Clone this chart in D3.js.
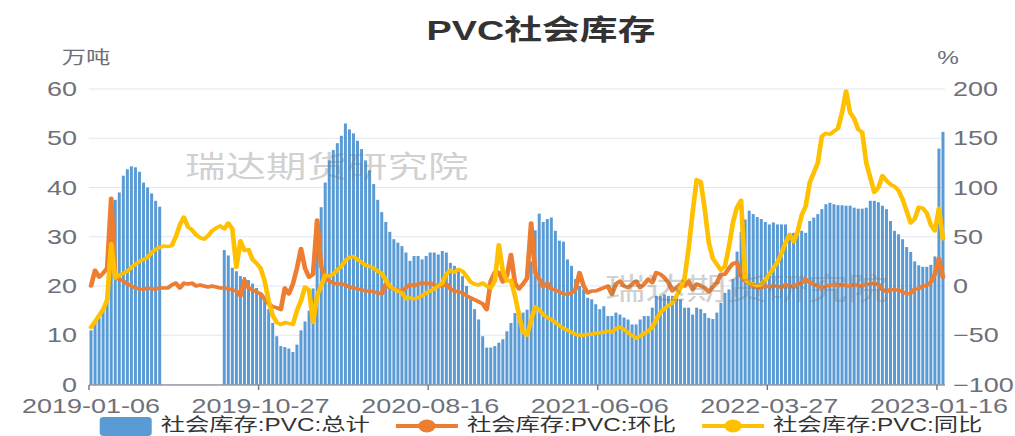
<!DOCTYPE html>
<html>
<head>
<meta charset="utf-8">
<script src="https://cdn.jsdelivr.net/npm/d3@7/dist/d3.min.js"></script>
<style>
    html, body { margin: 0; padding: 0; background: #fff; }
    #chart { width: 1015px; height: 436px; }
    text { font-family: "Liberation Sans", "Noto Sans CJK SC", sans-serif; }
</style>
</head>
<body>
<div id="chart"></div>
<script>
// weekly categories: 2019-01-06 onward, the last two come after the holiday break
var firstWeek = '2019-01-06';
var weeklyCount = 210;
var tailDates = ['2023-01-16', '2023-02-03'];
var tickDates = ['2019-01-06', '2019-10-27', '2020-08-16', '2021-06-06', '2022-03-27', '2023-01-16'];

var leftTicks = [0, 10, 20, 30, 40, 50, 60];
var rightTicks = [-100, -50, 0, 50, 100, 150, 200];

// 社会库存:PVC:总计 (万吨)
var stockTotal = [
    11, 12.5, 13.5, 15, 17.5, 34, 37.5, 39, 42.4, 43.7,
    44.3, 44.1, 43.2, 41, 40, 38.8, 37.3, 36.1, null, null,
    null, null, null, null, null, null, null, null, null, null,
    null, null, null, 27.3, 26.2, 23.7, 23, 22, 21.8, 21.2,
    20.5, 19.6, 18.5, 17.3, 15.3, 12.5, 9.8, 7.8, 7.6, 7.3,
    6.6, 8.1, 11, 12.8, 15, 19.5, 32, 36, 41, 45.5,
    47.6, 49, 50.5, 53, 51.8, 51, 49.5, 47.8, 45.5, 43.5,
    40.7, 37.5, 35, 33, 31, 29.5, 28.8, 28.1, 26.8, 25.1,
    26.1, 26.1, 25.4, 26.1, 26.8, 26.8, 26.4, 27.1, 26.8, 24.7,
    24.1, 23.4, 22, 20, 17.3, 15.3, 13.2, 9.8, 7.5, 7.5,
    7.8, 8.5, 9.2, 10.8, 12.5, 14.5, 15, 14.6, 15.2, 25,
    31.3, 34.7, 33, 33.6, 33.9, 31.2, 29.2, 29, 25.4, 24.1,
    21.4, 20, 19.3, 17.6, 17.3, 16.3, 15.3, 15.9, 13.9, 13.9,
    14.6, 14.2, 13.6, 13.2, 12.2, 12.2, 13.2, 13.9, 13.9, 15.6,
    18, 18, 18.3, 18, 18, 18, 17.3, 15.6, 15.6, 14.2,
    15.6, 15.3, 14.5, 13.5, 13.3, 14.6, 16.6, 18.6, 19.3, 21.4,
    27, 31, 33.5, 35.3, 34.6, 34, 33.6, 33, 32.5, 32.9,
    32.5, 32.5, 32.5, 30.8, 30.8, 30.8, 31.2, 30.8, 33.2, 33.9,
    34.6, 35.6, 36.6, 36.9, 36.6, 36.4, 36.4, 36.3, 36.3, 35.9,
    35.7, 35.7, 35.9, 37.3, 37.3, 37, 36.3, 35.6, 33.2, 31.2,
    30.5, 29.5, 27.9, 26.9, 25, 24.2, 23.9, 23.9, 24.3, 26,
    47.9, 51.3
];

// 社会库存:PVC:环比 (%)
var stockWoW = [
    0, 16, 9, 13, 18, 89, 8, 7, 5, 2,
    0, -2, -3, -3.4, -2, -3, -3, -2, -2, -2,
    1, 3, -2, 3, 2, 3, 0, 1, 0, -1,
    0, -1, -2, -2, -3, -4, -5, -10, 6, -2,
    -4, -6, -8, -13, -18, -21, -22, -24, -2, -8,
    2, 18, 38, 18, 9, 12, 67, 20, 10, 5,
    3, 2, 2, 1, -1, -2, -3, -4, -5, -5,
    -6, -7, -8, 2, -2, -3, -4, -5, -2, 1.7,
    0, 2, 3.4, 2, 3, 1, 0, 0, 2, -3,
    -5, -6, -7, -10, -12, -14, -16, -18, -24, 5,
    14, 14, 4, 10, 32, 3, -3, 2, 8, 64,
    14, 7, -1, 3, -3, -4, -6, -8, -8.5, -7,
    -3.4, 13.6, 0, -7, -5, -5, -3.4, -1.7, 0, -8.5,
    2, 5, 0, -1.7, 2, 5, -1.7, 2, 7, 3.4,
    13.6, 12, 8.5, 3.4, -5, -1.7, 2, 0, 5, -3.4,
    2, 0, -1.7, -6, -1, 3.4, 12, 12, 18, 23,
    24, 10, 5, 2, 0, -1.7, -1.7, 0, -0.7, 0,
    0, -1.7, 1.7, 0, -0.7, 2, 3, 7, 3.4, 1.7,
    0, -1.7, 0, 0.7, 1.7, 0, 1.7, 0, 0, 1.7,
    0, 0, 1.7, 1.7, 3.4, 1, -3.4, -6, -3.4, -4,
    -4, -6, -7.8, -7.5, -3, -2.7, 0, 0.7, 4, 12,
    28, 9
];

// 社会库存:PVC:同比 (%)
var stockYoY = [
    -42, -36, -30, -24, -14, 43, 8, 11, 13, 15,
    19, 22, 25, 27, 29, 34, 37, 39, 40.7, 40,
    41, 50, 62, 70, 60, 57, 52, 49, 47.5, 51,
    56, 59, 61, 58, 64, 58, 19, 46, 36, 37,
    27, 23, 18, 5, -15, -30, -37, -39, -37, -38,
    -39, -25, -15, -1, -4, -37, -10, 0, 11, 10,
    12, 16, 20, 26, 29, 30, 27, 24, 21, 20,
    18, 15, 13, 6, 0, -3, -5, -7, -13, -12,
    -13, -12, -10, -7, -5, -3, 0, 3, 12, 16,
    14, 17, 15, 10, 4, 2, 1, 3, 0, -2,
    5, 42, 15, 5, 6, -10, -30, -47, -50, -35,
    -21, -24, -29, -32, -34, -37, -40, -43, -45, -47,
    -49, -50, -50, -49, -49, -48, -47.5, -47, -46, -47,
    -43, -42, -44, -47.5, -50, -53, -51, -48, -46, -42,
    -34, -27, -23, -20, -17, -10, -2, 8, 38, 75,
    108, 106, 78, 44, 28, 22, 16, 20, 40, 65,
    80, 87, 7, 3, 2, 0, 1.7, 6, 12, 18,
    24, 33, 44, 52, 45, 55, 72, 81, 105, 115,
    125, 152, 155, 154, 157, 160, 176, 198, 176, 170,
    159, 156, 125, 110, 95, 100, 112, 107, 103, 101,
    97, 88, 76, 64, 68, 80, 79, 74, 62, 56,
    79, 48
];

var seriesNames = ['社会库存:PVC:总计', '社会库存:PVC:环比', '社会库存:PVC:同比'];
var seriesColors = ['#5b9bd5', '#ed7d31', '#ffc000'];

// the reference picture is stretched sideways, so draw in a narrower box and stretch it
var KX = 1.35;
var W = 1015, H = 436;
function vx(px) { return px / KX; }

var fmt = d3.utcFormat('%Y-%m-%d');
var start = d3.utcParse('%Y-%m-%d')(firstWeek);
var categories = d3.range(weeklyCount).map(function(i) {
    return fmt(d3.utcDay.offset(start, i * 7));
}).concat(tailDates);

var plot = { left: 89, right: 945, top: 89, bottom: 384.5 };

var svg = d3.select('#chart').append('svg')
    .attr('width', W)
    .attr('height', H)
    .attr('viewBox', '0 0 ' + vx(W) + ' ' + H)
    .attr('preserveAspectRatio', 'none');

var x = d3.scaleBand()
    .domain(categories)
    .range([vx(plot.left), vx(plot.right)]);
var step = x.step();
var cx = function(c) { return x(c) + step / 2; };

var yLeft = d3.scaleLinear().domain([0, 60]).range([plot.bottom, plot.top]);
var yRight = d3.scaleLinear().domain([-100, 200]).range([plot.bottom, plot.top]);

// grid
svg.append('g').selectAll('line')
    .data(leftTicks)
    .enter().append('line')
    .attr('x1', vx(plot.left))
    .attr('x2', vx(plot.right))
    .attr('y1', function(d) { return yLeft(d); })
    .attr('y2', function(d) { return yLeft(d); })
    .attr('stroke', '#e0e6f1')
    .attr('stroke-width', 1);

// bars
var barW = step * 0.74;
svg.append('g').selectAll('rect')
    .data(stockTotal.map(function(v, i) { return { c: categories[i], v: v }; })
        .filter(function(d) { return d.v !== null; }))
    .enter().append('rect')
    .attr('x', function(d) { return cx(d.c) - barW / 2; })
    .attr('width', barW)
    .attr('y', function(d) { return yLeft(d.v); })
    .attr('height', function(d) { return yLeft(0) - yLeft(d.v); })
    .attr('fill', seriesColors[0]);

// axis line + ticks
svg.append('line')
    .attr('x1', vx(plot.left)).attr('x2', vx(plot.right))
    .attr('y1', 385).attr('y2', 385)
    .attr('stroke', '#6e7079').attr('stroke-width', 1.2);

var labelled = categories.filter(function(c) { return tickDates.indexOf(c) >= 0; });
svg.append('g').selectAll('line')
    .data(labelled)
    .enter().append('line')
    .attr('x1', function(d) { return x(d); })
    .attr('x2', function(d) { return x(d); })
    .attr('y1', 385).attr('y2', 390)
    .attr('stroke', '#6e7079').attr('stroke-width', 1);

svg.append('g').selectAll('text')
    .data(labelled)
    .enter().append('text')
    .attr('x', function(d) { return cx(d); })
    .attr('y', 413)
    .attr('text-anchor', 'middle')
    .attr('font-size', 20)
    .attr('fill', '#6e7079')
    .text(function(d) { return d; });

// lines
function addLine(values, scale, color) {
    var line = d3.line()
        .x(function(d, i) { return cx(categories[i]); })
        .y(function(d) { return scale(d); });
    svg.append('path')
        .datum(values)
        .attr('d', line)
        .attr('fill', 'none')
        .attr('stroke', color)
        .attr('stroke-width', 3.5)
        .attr('stroke-linejoin', 'round')
        .attr('stroke-linecap', 'round');
}
addLine(stockWoW, yRight, seriesColors[1]);
addLine(stockYoY, yRight, seriesColors[2]);

// y labels
svg.append('g').selectAll('text')
    .data(leftTicks)
    .enter().append('text')
    .attr('x', vx(77))
    .attr('y', function(d) { return yLeft(d); })
    .attr('dy', '0.36em')
    .attr('text-anchor', 'end')
    .attr('font-size', 20)
    .attr('fill', '#6e7079')
    .text(function(d) { return d; });

svg.append('g').selectAll('text')
    .data(rightTicks)
    .enter().append('text')
    .attr('x', vx(953))
    .attr('y', function(d) { return yRight(d); })
    .attr('dy', '0.36em')
    .attr('text-anchor', 'start')
    .attr('font-size', 20)
    .attr('fill', '#6e7079')
    .text(function(d) { return d < 0 ? '\u2212' + Math.abs(d) : d; });

svg.append('text')
    .attr('x', vx(86)).attr('y', 64)
    .attr('text-anchor', 'middle')
    .attr('font-size', 18)
    .attr('fill', '#6e7079')
    .text('万吨');
svg.append('text')
    .attr('x', vx(948)).attr('y', 64)
    .attr('text-anchor', 'middle')
    .attr('font-size', 18)
    .attr('fill', '#6e7079')
    .text('%');

// title
svg.append('text')
    .attr('x', vx(541)).attr('y', 40)
    .attr('text-anchor', 'middle')
    .attr('font-size', 28)
    .attr('font-weight', 'bold')
    .attr('fill', '#333')
    .text('PVC社会库存');

// watermarks
[[185, 177], [605, 299]].forEach(function(p) {
    svg.append('text')
        .attr('x', vx(p[0])).attr('y', p[1])
        .attr('font-size', 30)
        .attr('fill', '#7a7a7a')
        .attr('fill-opacity', 0.36)
        .text('瑞达期货研究院');
});

// legend
var legend = svg.append('g');
var textGap = vx(9), itemGap = vx(26);
var cursor = 0;
seriesNames.forEach(function(name, i) {
    var iconW = vx(i === 0 ? 52 : 62);
    var g = legend.append('g').attr('transform', 'translate(' + cursor + ',0)');
    if (i === 0) {
        g.append('rect')
            .attr('x', 0).attr('y', 417)
            .attr('width', iconW).attr('height', 19)
            .attr('rx', 3)
            .attr('fill', seriesColors[i]);
    } else {
        g.append('line')
            .attr('x1', 0).attr('x2', iconW)
            .attr('y1', 426).attr('y2', 426)
            .attr('stroke', seriesColors[i]).attr('stroke-width', 4);
        g.append('circle')
            .attr('cx', iconW / 2).attr('cy', 426).attr('r', 6.5)
            .attr('fill', seriesColors[i]);
    }
    var t = g.append('text')
        .attr('x', iconW + textGap).attr('y', 431)
        .attr('font-size', 18)
        .attr('fill', '#333')
        .text(name);
    cursor += iconW + textGap + t.node().getComputedTextLength() + itemGap;
});
var legendW = cursor - itemGap;
legend.attr('transform', 'translate(' + (vx(541) - legendW / 2) + ',0)');
</script>
</body>
</html>
